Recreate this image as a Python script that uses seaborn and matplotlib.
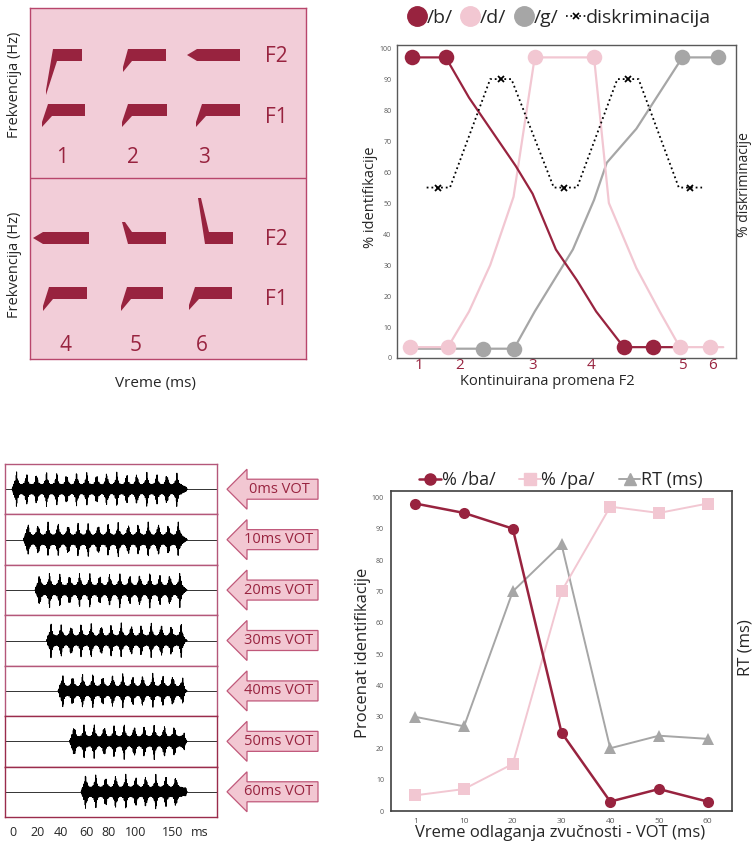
import numpy as np
import pandas as pd
import matplotlib
matplotlib.use("Agg")
import matplotlib.pyplot as plt
import matplotlib.patches as mpatches
from matplotlib.lines import Line2D
import seaborn as sns

# --- podaci ---------------------------------------------------------------
# A: sema stimulusa (pomeraj pocetka tranzicije u px, + = odozdo, - = odozgo)
stimuli = ['1', '2', '3', '4', '5', '6']
f2_transition = [34, 11, 0, 0, -10, -34]
f1_transition = [11, 11, 11, 12, 12, 11]

# B: identifikacija /b/ /d/ /g/ duz kontinuuma F2
b_x = [0.7, 2.3, 3.4, 4.5, 5.6, 6.4, 7.5, 8.5, 9.4, 10.7, 12.1, 13.1]
b_y = [97, 97, 84, 73, 62, 53, 35, 25, 15, 3.5, 3.5, 3.5]
b_marks = [0, 1, 9, 10]
d_x = [0.6, 2.4, 3.4, 4.4, 5.5, 6.5, 9.3, 10.0, 11.3, 12.4, 13.35, 14.75, 15.4]
d_y = [3.5, 3.5, 15, 30, 52, 97, 97, 50, 29, 15, 3.5, 3.5, 3.5]
d_marks = [0, 1, 5, 6, 10, 11]
g_x = [0.6, 4.07, 5.52, 6.5, 7.4, 8.3, 9.3, 9.9, 11.3, 13.47, 15.13]
g_y = [3, 3, 3, 15, 25, 35, 51, 63, 74, 97, 97]
g_marks = [1, 2, 9, 10]
disc_x = [1.4, 2.5, 4.4, 5.4, 7.4, 8.5, 10.4, 11.4, 13.3, 14.4]
disc_y = [55, 55, 90, 90, 55, 55, 90, 90, 55, 55]
disc_mx = [1.95, 4.9, 7.9, 10.9, 13.85]
disc_my = [55, 90, 55, 90, 55]
f2_tick_pos = [1.05, 2.94, 6.4, 9.15, 13.46, 14.87]

# C: VOT kontinuum
vot_ms = [0, 10, 20, 30, 40, 50, 60]
time_labels = ['0', '20', '40', '60', '80', '100', '150', 'ms']

# D: identifikacija /ba/ - /pa/ i vreme reakcije
vot_labels = ['1', '10', '20', '30', '40', '50', '60']
ba_pct = [98, 95, 90, 25, 3, 7, 3]
pa_pct = [5, 7, 15, 70, 97, 95, 98]
rt_vals = [30, 27, 70, 85, 20, 24, 23]

# --- stil ---------------------------------------------------------------
sns.set_style('white')
plt.rcParams['font.family'] = ['Open Sans', 'DejaVu Sans']

MAROON = '#98233F'
PINK = '#F2C7D2'
GREY = '#A6A6A6'
PANEL_BG = '#F2CDD8'
PANEL_EDGE = '#B8466C'

W, H = 752, 842
fig = plt.figure(figsize=(W / 100, H / 100), dpi=100)


def px_axes(l, t, r, b):
    return fig.add_axes([l / W, 1 - b / H, (r - l) / W, (b - t) / H])


def ftext(x, y, s, **kw):
    fig.text(x / W, 1 - y / H, s, **kw)


# === A: sematski prikaz formanata ========================================
axA = px_axes(30, 8, 306, 359)
axA.set_xlim(30, 306)
axA.set_ylim(359, 8)
axA.set_facecolor(PANEL_BG)
axA.set_xticks([])
axA.set_yticks([])
for s in axA.spines.values():
    s.set_color(PANEL_EDGE)
    s.set_linewidth(1)
axA.axhline(178, color=PANEL_EDGE, lw=1)


def formant(ax, xl, xr, ytop, dx, dy, thick=12):
    ybot = ytop + thick
    if dy > 0:
        tx, ty = xl + dx, ybot + dy
        pts = [(xl, ytop), (xr, ytop), (xr, ybot), (xl + 4, ybot), (tx, ty), (tx, ty - 5)]
    elif dy < 0:
        tx, ty = xl + dx, ytop + dy
        pts = [(tx, ty), (tx + 3, ty), (xl + 4, ytop), (xr, ytop), (xr, ybot), (xl, ybot)]
    else:
        pts = [(xl + dx, ytop + thick / 2), (xl, ytop), (xr, ytop), (xr, ybot), (xl, ybot)]
    ax.add_patch(mpatches.Polygon(pts, closed=True, fc=MAROON, ec='none'))


f2_bars = [(53, 82), (128, 166), (197, 240), (43, 89), (128, 166), (205, 233)]
f1_bars = [(48, 85), (128, 167), (202, 240), (49, 87), (127, 163), (195, 232)]
f2_dx = [-7, -5, -10, -10, -6, -7]
num_pos = [(62, 163), (133, 163), (204, 163), (65, 351), (136, 351), (202, 351)]
for i, lab in enumerate(stimuli):
    top = 49 if i < 3 else 232
    formant(axA, *f2_bars[i], top, f2_dx[i], f2_transition[i])
    formant(axA, *f1_bars[i], top + 55, -6, f1_transition[i])
    axA.text(*num_pos[i], lab, color=MAROON, fontsize=15, ha='center', va='baseline')
for yb, lab in [(62, 'F2'), (123, 'F1'), (245, 'F2'), (305, 'F1')]:
    axA.text(276, yb, lab, color=MAROON, fontsize=15, ha='center', va='baseline')

ftext(15, 85, 'Frekvencija (Hz)', rotation=90, ha='center', va='center', fontsize=10.5)
ftext(15, 265, 'Frekvencija (Hz)', rotation=90, ha='center', va='center', fontsize=10.5)
ftext(155, 383, 'Vreme (ms)', ha='center', va='center', fontsize=11)

# === B: identifikacija i diskriminacija ==================================
axB = px_axes(397, 45, 736, 358)
for xs, ys, col in [(g_x, g_y, GREY), (d_x, d_y, PINK), (b_x, b_y, MAROON)]:
    sns.lineplot(x=xs, y=ys, ax=axB, color=col, lw=1.6, sort=False)
for xs, ys, idx, col in [(g_x, g_y, g_marks, GREY), (b_x, b_y, b_marks, MAROON),
                         (d_x, d_y, d_marks, PINK)]:
    sns.scatterplot(x=[xs[k] for k in idx], y=[ys[k] for k in idx], ax=axB,
                    color=col, s=125, linewidth=0, zorder=4)
axB.plot(disc_x, disc_y, color='black', ls=':', lw=1.3, zorder=5)
axB.plot(disc_mx, disc_my, color='black', ls='none', marker='x', ms=5, mew=1.3, zorder=6)
axB.set_xlim(0, 16)
axB.set_ylim(0, 101)
axB.set_yticks(range(0, 101, 10))
axB.tick_params(axis='y', labelsize=5, labelcolor='#595959', length=0, pad=4)
axB.set_xticks(f2_tick_pos)
axB.set_xticklabels(stimuli)
axB.set_xticks(range(0, 17), minor=True)
axB.tick_params(axis='x', which='major', length=0, labelsize=11, labelcolor=MAROON, pad=0)
axB.tick_params(axis='x', which='minor', length=4, width=0.8, color='#595959', direction='out')
axB.set_xlabel('')
axB.set_ylabel('')
for s in axB.spines.values():
    s.set_color('#595959')
    s.set_linewidth(1)
ftext(547, 381, 'Kontinuirana promena F2', ha='center', va='center', fontsize=10.5)
ftext(370, 197, '% identifikacije', rotation=90, ha='center', va='center', fontsize=10.5)
ftext(744, 185, '% diskriminacije', rotation=90, ha='center', va='center', fontsize=10)

hB = [Line2D([], [], ls='none', marker='o', ms=14, color=MAROON),
      Line2D([], [], ls='none', marker='o', ms=14, color=PINK),
      Line2D([], [], ls='none', marker='o', ms=14, color=GREY),
      Line2D([], [], ls=':', marker='x', ms=5, mew=1.2, lw=1.2, color='black')]
fig.legend(hB, ['/b/', '/d/', '/g/', 'diskriminacija'], loc='center',
           bbox_to_anchor=(559 / W, 1 - 18 / H), ncol=4, frameon=False, fontsize=14,
           handletextpad=0.0, columnspacing=0.4, handlelength=1.0)

# === C: talasni oblici VOT kontinuuma ====================================
row_h = (817 - 464) / 7
period = 8.7
for i, vot in enumerate(vot_ms):
    ax = px_axes(5, 464 + row_h * i, 217, 464 + row_h * (i + 1))
    t = np.linspace(vot, 152, 6000)
    ph = np.mod(t - vot, period)
    env = 0.18 + 0.55 * np.exp(-np.abs(ph - period * 0.45) / (period * 0.12))
    env *= np.clip((t - vot) / 1.5, 0, 1) * np.clip((152 - t) / 5.0, 0.02, 1)
    sig = env * np.sin(2 * np.pi * t / 0.3) * (0.8 + 0.2 * np.cos(2 * np.pi * t / 1.3))
    ax.plot([-6.1, 178], [0, 0], color='#333333', lw=0.7)
    ax.plot(t, sig, color='black', lw=0.7)
    ax.set_xlim(-6.1, 178)
    ax.set_ylim(-1, 1)
    ax.set_xticks([])
    ax.set_yticks([])
    for s in ax.spines.values():
        s.set_color('#B4577A' if i < 5 else '#9A2C4C')
        s.set_linewidth(1)

for x, lab in zip([13, 38, 61, 86, 108, 136, 173, 200], time_labels):
    ftext(x, 833, lab, ha='center', va='center', fontsize=9)

axArr = px_axes(222, 464, 322, 817)
axArr.set_xlim(222, 322)
axArr.set_ylim(817, 464)
axArr.axis('off')
for i, vot in enumerate(vot_ms):
    yc = 464 + row_h * (i + 0.5)
    axArr.add_patch(mpatches.FancyArrow(318, yc, -91, 0, width=20, head_width=40,
                                        head_length=20, length_includes_head=True,
                                        fc=PINK, ec='#C0587A', lw=0.9))
    axArr.text(279, yc, f'{vot}ms VOT', color=MAROON, fontsize=10.5, ha='center', va='center')

# === D: identifikacija /ba/-/pa/ i RT ====================================
axD = px_axes(391, 491, 732, 811)
df = pd.DataFrame({'pos': range(len(vot_labels)), 'ba': ba_pct, 'pa': pa_pct, 'rt': rt_vals})
sns.lineplot(data=df, x='pos', y='rt', ax=axD, color=GREY, lw=1.4, marker='^',
             markersize=8, markeredgewidth=0, markeredgecolor=GREY)
sns.lineplot(data=df, x='pos', y='pa', ax=axD, color=PINK, lw=1.4, marker='s',
             markersize=8, markeredgewidth=0, markeredgecolor=PINK)
sns.lineplot(data=df, x='pos', y='ba', ax=axD, color=MAROON, lw=1.8, marker='o',
             markersize=8, markeredgewidth=0, markeredgecolor=MAROON)
axD.set_xlim(-0.5, 6.5)
axD.set_ylim(0, 102)
axD.set_xticks(range(len(vot_labels)))
axD.set_xticklabels(vot_labels)
axD.set_yticks(range(0, 101, 10))
axD.tick_params(axis='y', labelsize=5, labelcolor='#595959', length=0, pad=5)
axD.tick_params(axis='x', labelsize=6, labelcolor='#595959', length=0, pad=5)
axD.set_xlabel('')
axD.set_ylabel('')
for s in axD.spines.values():
    s.set_color('#404040')
    s.set_linewidth(1.2)

ftext(363, 653, 'Procenat identifikacije', rotation=90, ha='center', va='center', fontsize=12)
ftext(745, 648, 'RT (ms)', rotation=90, ha='center', va='center', fontsize=12)
ftext(560, 833, 'Vreme odlaganja zvučnosti - VOT (ms)', ha='center', va='center', fontsize=12)

hD = [Line2D([], [], color=MAROON, lw=1.8, marker='o', ms=8),
      Line2D([], [], color=PINK, lw=1.4, marker='s', ms=8),
      Line2D([], [], color=GREY, lw=1.4, marker='^', ms=8)]
fig.legend(hD, ['% /ba/', '% /pa/', 'RT (ms)'], loc='center',
           bbox_to_anchor=(561 / W, 1 - 480 / H), ncol=3, frameon=False, fontsize=13,
           handletextpad=0.05, columnspacing=1.3, handlelength=1.2)

fig.savefig('out.png', dpi=100)
